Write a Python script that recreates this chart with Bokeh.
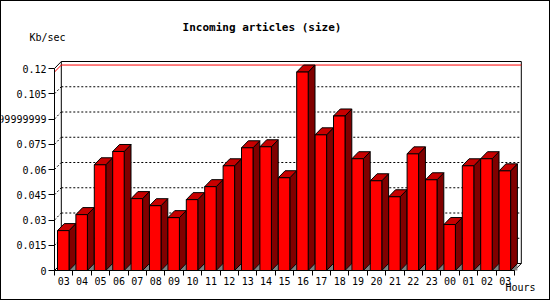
from bokeh.plotting import figure
from bokeh.models import Range1d, FixedTicker, Label, LinearAxis, ColumnDataSource
from bokeh.embed import file_html
from bokeh.resources import INLINE

# ---- data ----
hours = ["03", "04", "05", "06", "07", "08", "09", "10", "11", "12", "13", "14", "15",
         "16", "17", "18", "19", "20", "21", "22", "23", "00", "01", "02", "03"]
values = [0.0237, 0.0332, 0.0628, 0.0707, 0.0427, 0.0385, 0.0314, 0.0421, 0.0498,
          0.0622, 0.0729, 0.0735, 0.0551, 0.1179, 0.0806, 0.0918, 0.0664, 0.0533,
          0.0438, 0.0693, 0.0539, 0.0273, 0.0622, 0.0664, 0.0592]
y_ticks = [0, 0.015, 0.03, 0.045, 0.06, 0.075, 0.09, 0.105, 0.12]
y_tick_labels = ["0", "0.015", "0.03", "0.045", "0.06", "0.075", "0.0899999999", "0.105", "0.12"]
title_text = "Incoming articles (size)"
y_unit = "Kb/sec"
x_unit = "Hours"

# ---- geometry (pixels) ----
W, H = 550, 300
X0, Y0 = 53, 269          # pixel position of data origin (front plane)
PX_X = 18.4               # pixels per category slot
PX_Y = 202.0 / 0.12       # pixels per Kb/sec
n = len(values)
dx = 6.8 / PX_X
dy = 7.0 / PX_Y
off = 3.0 / PX_X
bw = 11.5 / PX_X
ytop = y_ticks[-1]
FONT = "DejaVu Sans Mono"

p = figure(width=W, height=H,
           x_range=Range1d(-X0 / PX_X, (W - X0) / PX_X),
           y_range=Range1d(-(H - Y0) / PX_Y, Y0 / PX_Y),
           output_backend="svg", toolbar_location=None, x_axis_type=None, y_axis_type=None,
           min_border=0, min_border_left=0, min_border_right=0, min_border_top=0,
           min_border_bottom=0)
p.outline_line_color = None
p.background_fill_color = "white"
p.border_fill_color = "white"
p.styles = {"border": "1px solid black", "box-sizing": "border-box"}

# axes (drawn at the data origin)
yax = LinearAxis(ticker=FixedTicker(ticks=y_ticks, minor_ticks=[]), fixed_location=0)
yax.major_label_overrides = {t: lab for t, lab in zip(y_ticks, y_tick_labels)}
yax.bounds = (0, ytop)
yax.major_tick_out = 6
yax.major_tick_in = 0
yax.major_tick_line_color = "black"
yax.axis_line_color = "black"
yax.major_label_standoff = 2
yax.major_label_text_font = FONT
yax.major_label_text_font_size = "10px"
yax.major_label_text_color = "black"
p.add_layout(yax, "left")

centers = [i + 0.5 for i in range(n)]
bounds_t = [float(i) for i in range(n + 1)]
xax = LinearAxis(ticker=FixedTicker(ticks=centers, minor_ticks=bounds_t), fixed_location=0)
xax.major_label_overrides = {c: h for c, h in zip(centers, hours)}
xax.bounds = (0, n)
xax.major_tick_line_color = None
xax.minor_tick_out = 5
xax.minor_tick_in = 0
xax.minor_tick_line_color = "black"
xax.axis_line_color = "black"
xax.major_label_standoff = 0
xax.major_label_text_font = FONT
xax.major_label_text_font_size = "10px"
xax.major_label_text_color = "black"
p.add_layout(xax, "below")

# back wall grid (dotted)
gx0, gy0, gx1, gy1 = [], [], [], []
for t in y_ticks[1:-1]:
    gx0 += [0, dx]; gy0 += [t, t + dy]; gx1 += [dx, n + dx]; gy1 += [t + dy, t + dy]
p.segment(x0=gx0, y0=gy0, x1=gx1, y1=gy1, line_color="black", line_width=1, line_dash="2 2")

# frame edges
ex0 = [0, dx, n + dx, dx, 0, dx, n]
ey0 = [ytop, ytop + dy, dy, dy, 0, dy, 0]
ex1 = [dx, n + dx, n + dx, dx, dx, n + dx, n + dx]
ey1 = [ytop + dy, ytop + dy, ytop + dy, ytop + dy, dy, dy, dy]
p.segment(x0=ex0, y0=ey0, x1=ex1, y1=ey1, line_color="black", line_width=1)

# max line
vmax = max(values)
p.line(x=[0, dx, n + dx], y=[vmax, vmax + dy, vmax + dy], line_color="red", line_width=1)

# bars
L = [i + off for i in range(n)]
R = [i + off + bw for i in range(n)]
tri_x = [[r, r + dx, r + dx] for r in R]
tri_y = [[0, dy, 0] for _ in R]
p.patches(xs=tri_x, ys=tri_y, fill_color="#808080", line_color=None)
side_x = [[r, r + dx, r + dx, r] for r in R]
side_y = [[v, v + dy, dy, 0] for v in values]
p.patches(xs=side_x, ys=side_y, fill_color="#800000", line_color="black", line_width=1)
top_x = [[l, l + dx, r + dx, r] for l, r in zip(L, R)]
top_y = [[v, v + dy, v + dy, v] for v in values]
p.patches(xs=top_x, ys=top_y, fill_color="#C80000", line_color="black", line_width=1)
src = ColumnDataSource(dict(left=L, right=R, top=values, bottom=[0] * n))
p.quad(left="left", right="right", top="top", bottom="bottom", source=src,
       fill_color="#FF0000", line_color="black", line_width=1)

# texts
p.add_layout(Label(x=(260.5 - X0) / PX_X, y=(Y0 - 26) / PX_Y, text=title_text, text_align="center",
                   text_baseline="middle", text_font=FONT, text_font_size="11px",
                   text_font_style="bold", text_color="black"))
p.add_layout(Label(x=(28 - X0) / PX_X, y=(Y0 - 36) / PX_Y, text=y_unit, text_align="left",
                   text_baseline="middle", text_font=FONT, text_font_size="10px", text_color="black"))
p.add_layout(Label(x=(504 - X0) / PX_X, y=(Y0 - 286) / PX_Y, text=x_unit, text_align="left",
                   text_baseline="middle", text_font=FONT, text_font_size="10px", text_color="black"))

open("out.html", "w").write(file_html(p, INLINE))
